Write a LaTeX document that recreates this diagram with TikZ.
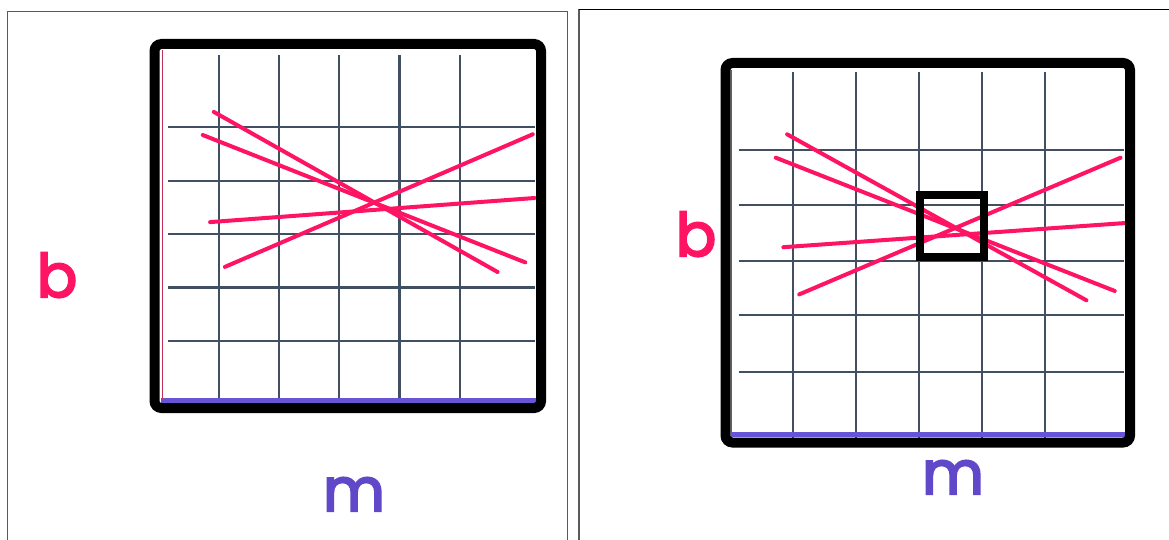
\documentclass[tikz,border=0pt]{standalone}
\usepackage{fontspec}
\setmainfont{Poppins}
\newfontfamily\lblfont[FakeBold=3.5]{Poppins}
\definecolor{pinkred}{RGB}{255,20,100}
\definecolor{gridcol}{RGB}{66,78,98}
\definecolor{purp}{RGB}{104,84,214}
\definecolor{mcol}{RGB}{96,72,200}
\definecolor{edgered}{RGB}{190,50,90}
\definecolor{framegray}{RGB}{90,90,90}
\tikzset{
  frameline/.style={draw=framegray, line width=1.4pt},
  bigbox/.style={draw=black, line width=10pt, rounded corners=7pt},
  gridline/.style={draw=gridcol, line width=2.2pt},
  fitline/.style={draw=pinkred, line width=4pt, line cap=round},
  baseline/.style={draw=purp, line width=5pt},
  leftedge/.style={draw=edgered, line width=1.5pt},
  smallbox/.style={draw=black, line width=8pt},
  blabel/.style={text=pinkred, font=\fontsize{60}{60}\selectfont\lblfont, anchor=base, inner sep=0pt},
  mlabel/.style={text=mcol, font=\fontsize{60}{60}\selectfont\lblfont, anchor=base, inner sep=0pt}
}
\begin{document}
\begin{tikzpicture}[x=1pt, y=-1pt]
\useasboundingbox (0,0) rectangle (1169,540);
\fill[white] (0,0) rectangle (1169,540);
% panel frames
\draw[frameline] (7.5,541) -- (7.5,11.5) -- (567.5,11.5) -- (567.5,541);
\draw[frameline] (579,541) -- (579,9.5);
\draw[draw=black, line width=1.6pt] (579,9.5) -- (1170,9.5);

% ---------- left panel ----------
\foreach \x in {219,279.3,339.3,399.5,459.9} \draw[gridline] (\x,55) -- (\x,408);
\foreach \y in {127.4,180.8,234.2,287.5,340.9} \draw[gridline] (168,\y) -- (535,\y);
\draw[baseline] (161,400.5) -- (536,400.5);
\draw[leftedge] (162.5,50) -- (162.5,399);
\draw[fitline] (213.8,111.9) -- (497.6,272.0);
\draw[fitline] (202.7,135.0) -- (525.3,262.4);
\draw[fitline] (210.1,222.1) -- (534.6,198.0);
\draw[fitline] (224.9,266.9) -- (532.7,134.3);
\draw[bigbox] (154.5,44) rectangle (541,408);
\node[blabel] (bL) at (57,297) {b};
\node[mlabel] (mL) at (354,511) {m};

% ---------- right panel ----------
\foreach \x in {792.8,856.1,918.9,982.2,1044.7} \draw[gridline] (\x,72) -- (\x,442);
\foreach \y in {149.8,204.9,260.7,315.1,371.9} \draw[gridline] (738.6,\y) -- (1124,\y);
\draw[baseline] (731,434.5) -- (1125,434.5);
\draw[leftedge] (731.5,70) -- (731.5,432);
\draw[fitline] (787.1,134.3) -- (1086.4,300.3);
\draw[fitline] (775.8,157.7) -- (1114.8,291.0);
\draw[fitline] (783.3,247.2) -- (1124.2,223.1);
\draw[fitline] (799.2,294.4) -- (1120.5,157.7);
\draw[smallbox] (920,195) rectangle (984,256.5);
\draw[bigbox] (725.5,63) rectangle (1130,442.5);
\node[blabel] (bR) at (696,256) {b};
\node[mlabel] (mR) at (953,494) {m};
\end{tikzpicture}
\end{document}
